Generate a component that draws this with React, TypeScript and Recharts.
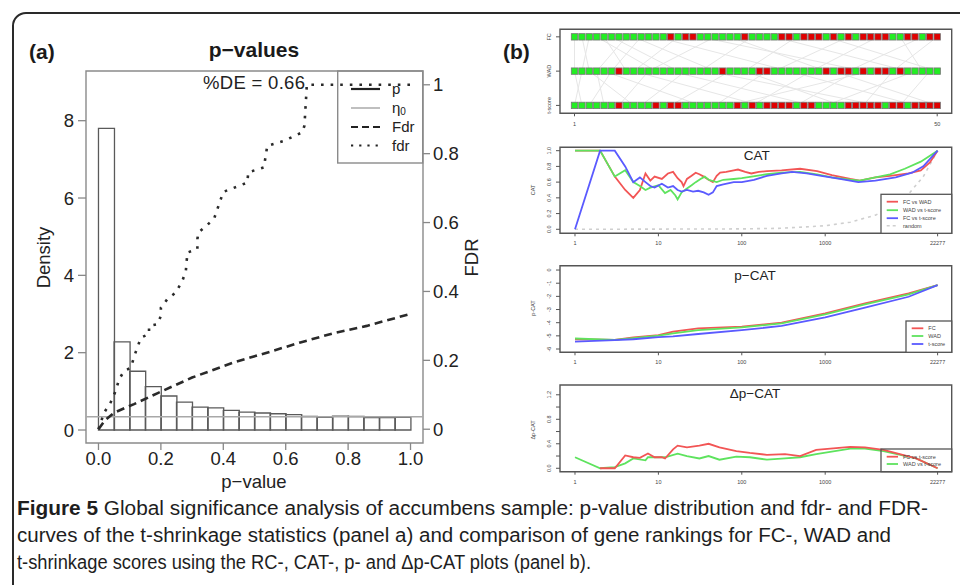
import React from 'react';
import {
  ComposedChart, LineChart, ScatterChart, Bar, Line, Scatter, XAxis, YAxis,
  ReferenceLine, ReferenceArea,
} from 'recharts';

const FONT = '"Liberation Sans", Arial, Helvetica, sans-serif';

// ---------- Panel (a): p-value histogram ----------
const HIST_BINS = ['0.00-0.05', '0.05-0.10', '0.10-0.15', '0.15-0.20', '0.20-0.25', '0.25-0.30', '0.30-0.35',
  '0.35-0.40', '0.40-0.45', '0.45-0.50', '0.50-0.55', '0.55-0.60', '0.60-0.65', '0.65-0.70', '0.70-0.75',
  '0.75-0.80', '0.80-0.85', '0.85-0.90', '0.90-0.95', '0.95-1.00'];
const HIST_DENSITY = [7.8, 2.28, 1.52, 1.12, 0.88, 0.72, 0.59, 0.57, 0.51, 0.46,
  0.44, 0.42, 0.40, 0.35, 0.33, 0.36, 0.35, 0.32, 0.32, 0.33];
const ETA0 = 0.34;
const FDR_P = [0, 0.02, 0.05, 0.114, 0.19, 0.3, 0.434, 0.55, 0.647, 0.75, 0.86, 1.0];
const FDR_V = [0, 0.025, 0.048, 0.073, 0.105, 0.15, 0.194, 0.225, 0.252, 0.278, 0.30, 0.335];
const LFDR_P = [0, 0.018, 0.039, 0.055, 0.066, 0.082, 0.103, 0.119, 0.136, 0.162, 0.162, 0.189, 0.2, 0.2,
  0.221, 0.248, 0.269, 0.28, 0.285, 0.317, 0.317, 0.32, 0.37, 0.392, 0.40, 0.477, 0.48, 0.53, 0.541,
  0.594, 0.653, 0.66, 0.667, 0.667, 1.0];
const LFDR_V = [0, 0.048, 0.078, 0.111, 0.145, 0.169, 0.178, 0.223, 0.266, 0.276, 0.30, 0.305, 0.329, 0.353,
  0.378, 0.397, 0.431, 0.46, 0.513, 0.523, 0.552, 0.571, 0.61, 0.668, 0.689, 0.716, 0.746, 0.76, 0.823,
  0.837, 0.862, 0.881, 0.9875, 1.0, 1.0];
const P_TICKS = [0, 0.2, 0.4, 0.6, 0.8, 1.0];
const DENS_TICKS = [0, 2, 4, 6, 8];
const FDR_TICKS = [0, 0.2, 0.4, 0.6, 0.8, 1];

// ---------- Panel (b): RC plot ----------
const RC_ROWS = ['t-score', 'WAD', 'FC']; // y = 1, 2, 3
const RC_N = 50;
const FC_RED = [14, 16, 17, 24, 29, 30, 32, 33, 34, 36, 38, 40, 41, 42, 43, 46, 47, 49, 50];
const WAD_RED = [7, 21, 26, 27, 35, 37, 38, 40, 42, 43, 45];
const TS_RED = [7, 12, 14, 15, 23, 25, 27, 28, 29, 30, 32, 33, 38, 39, 40, 41, 42, 44, 45, 47, 48, 49, 50];
const LINKS_TOP = [[1, 1], [2, 3], [3, 2], [4, 12], [5, 8], [6, 15], [8, 4], [9, 20], [10, 6], [12, 30],
  [15, 9], [18, 40], [20, 11], [22, 35], [25, 18], [28, 46], [31, 24], [35, 50], [38, 28], [42, 33],
  [45, 48], [48, 38], [50, 44]];
const LINKS_BOTTOM = [[1, 2], [2, 1], [3, 9], [4, 5], [5, 18], [6, 3], [9, 26], [11, 7], [14, 33],
  [16, 10], [19, 42], [22, 14], [24, 37], [27, 20], [30, 47], [33, 25], [36, 50], [39, 31], [41, 22],
  [44, 40], [47, 35], [49, 45]];

// ---------- CAT ----------
const CAT_FCWAD = [[1, 1.0], [2, 1.0], [3, 0.67], [4, 0.5], [5, 0.4], [6, 0.5], [7, 0.71], [8, 0.62], [9, 0.67],
  [11, 0.64], [13, 0.71], [15, 0.73], [17, 0.65], [19, 0.6], [20, 0.55], [22, 0.64], [25, 0.68], [28, 0.72],
  [31, 0.7], [35, 0.67], [40, 0.63], [45, 0.6], [50, 0.68], [55, 0.72], [65, 0.73], [80, 0.75], [90, 0.76],
  [110, 0.73], [130, 0.71], [160, 0.73], [200, 0.74], [300, 0.75], [500, 0.77], [800, 0.74], [1200, 0.69],
  [2000, 0.64], [2600, 0.62], [4000, 0.66], [6000, 0.68], [10000, 0.71], [14000, 0.75], [18000, 0.85], [22277, 1.0]];
const CAT_WADT = [[1, 1.0], [2, 1.0], [3, 0.67], [4, 0.75], [5, 0.6], [6, 0.55], [7, 0.5], [8, 0.53], [10, 0.56],
  [12, 0.46], [14, 0.5], [16, 0.43], [17, 0.38], [19, 0.47], [22, 0.52], [25, 0.56], [28, 0.6], [32, 0.64],
  [36, 0.67], [40, 0.63], [50, 0.6], [60, 0.63], [80, 0.64], [100, 0.65], [150, 0.68], [200, 0.7], [300, 0.72],
  [500, 0.73], [800, 0.7], [1200, 0.66], [2000, 0.63], [2600, 0.62], [4000, 0.66], [6000, 0.7], [9000, 0.77],
  [14000, 0.86], [22277, 1.0]];
const CAT_FCT = [[1, 0.0], [2, 1.0], [3, 1.0], [4, 0.8], [5, 0.6], [6, 0.66], [7, 0.6], [8, 0.55], [9, 0.53],
  [11, 0.58], [13, 0.53], [15, 0.55], [17, 0.5], [19, 0.48], [22, 0.5], [26, 0.48], [30, 0.49], [35, 0.47],
  [40, 0.44], [45, 0.47], [50, 0.55], [60, 0.57], [80, 0.6], [100, 0.6], [140, 0.63], [200, 0.68], [300, 0.71],
  [400, 0.73], [600, 0.71], [900, 0.68], [1500, 0.64], [2500, 0.6], [4000, 0.62], [7000, 0.66], [11000, 0.72],
  [15000, 0.8], [22277, 1.0]];
const CAT_RANDOM = [[1, 0], [100, 0.005], [300, 0.013], [1000, 0.045], [2000, 0.09], [4000, 0.18], [7000, 0.31],
  [10000, 0.45], [15000, 0.67], [22277, 1.0]];

// ---------- p-CAT ----------
const PCAT_FC = [[1, -5.26], [3, -5.3], [5, -5.11], [10, -4.94], [15, -4.68], [30, -4.43], [100, -4.3],
  [300, -4.0], [1000, -3.29], [3000, -2.53], [10000, -1.77], [22277, -1.14]];
const PCAT_WAD = [[1, -5.2], [3, -5.3], [5, -5.18], [10, -4.98], [15, -4.81], [30, -4.56], [100, -4.35],
  [300, -4.05], [1000, -3.37], [3000, -2.6], [10000, -1.85], [22277, -1.14]];
const PCAT_T = [[1, -5.44], [3, -5.32], [5, -5.26], [10, -5.1], [15, -5.04], [30, -4.86], [100, -4.56],
  [300, -4.25], [1000, -3.6], [3000, -2.86], [10000, -2.03], [22277, -1.14]];

// ---------- Δp-CAT ----------
const DPCAT_FC = [[2, 0.0], [3, 0.0], [4, 0.21], [5, 0.18], [6, 0.17], [7.5, 0.24], [9, 0.18], [11, 0.18],
  [12, 0.16], [15, 0.31], [17, 0.37], [22, 0.34], [31, 0.37], [40, 0.4], [54, 0.34], [86, 0.28], [125, 0.25],
  [200, 0.22], [330, 0.23], [500, 0.2], [780, 0.3], [2000, 0.35], [3000, 0.34], [5000, 0.3], [12300, 0.16],
  [22277, 0.0]];
const DPCAT_WAD = [[1, 0.18], [2, 0.0], [3, 0.02], [4, 0.08], [5, 0.16], [7, 0.13], [7.5, 0.18], [12, 0.18],
  [17, 0.24], [22, 0.2], [31, 0.16], [40, 0.2], [54, 0.14], [86, 0.19], [125, 0.18], [200, 0.14], [330, 0.16],
  [500, 0.18], [780, 0.23], [2000, 0.32], [3000, 0.32], [5000, 0.28], [12300, 0.16], [22277, 0.0]];

const RANK_TICKS = [1, 10, 100, 1000, 22277];
const RANK_DOMAIN = [0.661, 32880];

const RED = '#f25555';
const GREEN = '#5ee35e';
const BLUE = '#5a5aff';

const pts = (arr: number[][]) => arr.map(([r, v]) => ({ r, v }));

function RotTick(props: any) {
  const { x, y, payload, fmt } = props;
  const t = fmt ? fmt(payload.value, payload.index) : String(payload.value);
  return (
    <text x={x} y={y} transform={`rotate(-90 ${x} ${y})`} textAnchor="middle"
      fontSize={5.5} fill="#444" fontFamily={FONT}>{t}</text>
  );
}

const smallTick = { fontSize: 5.5, fill: '#444', fontFamily: FONT };
const bigTick = { fontSize: 18.5, fill: '#222', fontFamily: FONT };

function bMargin(t: number, b: number) {
  return { top: t, right: 8.3, bottom: 585 - b - 20, left: 500 };
}

const abs: React.CSSProperties = { position: 'absolute', left: 0, top: 0 };

function RankChart(props: { t: number; b: number; yDomain: number[]; yTicks: number[]; fmt: any; children: any }) {
  const { t, b, yDomain, yTicks, fmt, children } = props;
  return (
    <div style={abs}>
      <LineChart width={960} height={585} margin={bMargin(t, b)}>
        <XAxis dataKey="r" type="number" scale="log" domain={RANK_DOMAIN} allowDataOverflow
          ticks={RANK_TICKS} interval={0} height={20} tickSize={3} tickMargin={5}
          axisLine={false} tick={smallTick} tickLine={{ stroke: '#555' }} />
        <YAxis type="number" domain={yDomain} allowDataOverflow ticks={yTicks} interval={0}
          width={60} tickSize={4} tickMargin={5} axisLine={false} tickLine={{ stroke: '#555' }}
          tick={(p: any) => <RotTick {...p} fmt={fmt} />} />
        <ReferenceArea x1={RANK_DOMAIN[0]} x2={RANK_DOMAIN[1]} y1={yDomain[0]} y2={yDomain[1]}
          ifOverflow="visible" fill="none" fillOpacity={0} stroke="#555" strokeWidth={1.4} />
        {children}
      </LineChart>
    </div>
  );
}

export default function App() {
  const histData = HIST_BINS.map((bin, i) => ({ bin, d: HIST_DENSITY[i] }));
  const fdrData = FDR_P.map((x, i) => ({ x, v: FDR_V[i] }));
  const lfdrData = LFDR_P.map((x, i) => ({ x, v: LFDR_V[i] }));
  const idx = Array.from({ length: RC_N }, (_, i) => i + 1);
  const rows = [
    { y: 3, red: FC_RED },
    { y: 2, red: WAD_RED },
    { y: 1, red: TS_RED },
  ];

  const densDomain = [-0.336, 9.285];
  const fdrDomain = [-0.04, 1.04];
  const pDomain = [-0.04, 1.04];
  const rcXDomain = [-0.96, 51.96];
  const rcYDomain = [0.77, 3.22];

  const square = (p: any) => (
    <rect x={p.cx - 3.2} y={p.cy - 3.2} width={6.4} height={6.4}
      fill={p.payload.red ? '#e00000' : '#22ee22'} stroke="#777" strokeWidth={0.8} />
  );

  return (
    <div style={{ position: 'absolute', left: 0, top: 0, width: 960, height: 585, background: '#fff', overflow: 'hidden', fontFamily: FONT }}>
      <div style={{ position: 'absolute', left: 12, top: 12, width: 1000, height: 1000, border: '2px solid #2a2a2a', borderTopLeftRadius: 14 }} />

      {/* Panel (a) */}
      <div style={abs}>
        <ComposedChart width={960} height={585} data={histData} barCategoryGap={0} barGap={0}
          margin={{ top: 71, right: 460, bottom: 85, left: 0 }}>
          <XAxis dataKey="x" type="number" domain={pDomain} allowDataOverflow ticks={P_TICKS} interval={0}
            tickFormatter={(v: number) => v.toFixed(1)} height={57} tickSize={7} tickMargin={2}
            axisLine={false} tick={bigTick} tickLine={{ stroke: '#888', strokeWidth: 1.3 }} />
          <XAxis xAxisId="bins" dataKey="bin" type="category" hide padding={{ left: 12.48, right: 12.48 }} />
          <YAxis yAxisId="d" type="number" domain={densDomain} allowDataOverflow ticks={DENS_TICKS} interval={0}
            width={86} tickSize={8} tickMargin={4} axisLine={false} tick={bigTick}
            tickLine={{ stroke: '#888', strokeWidth: 1.3 }} />
          <YAxis yAxisId="f" orientation="right" type="number" domain={fdrDomain} allowDataOverflow
            ticks={FDR_TICKS} interval={0} width={77} tickSize={7} tickMargin={3} axisLine={false}
            tick={bigTick} tickLine={{ stroke: '#888', strokeWidth: 1.3 }}
            tickFormatter={(v: number) => (v === 0 || v === 1 ? String(v) : v.toFixed(1))} />
          <ReferenceArea yAxisId="d" x1={pDomain[0]} x2={pDomain[1]} y1={densDomain[0]} y2={densDomain[1]}
            ifOverflow="visible" fill="none" fillOpacity={0} stroke="#8a8a8a" strokeWidth={1.4} />
          <Bar xAxisId="bins" yAxisId="d" dataKey="d" fill="none" fillOpacity={0} stroke="#5a5a5a"
            strokeWidth={1.3} isAnimationActive={false} />
          <ReferenceLine yAxisId="d" y={ETA0} stroke="#a8a8a8" strokeWidth={1.5} />
          <Line yAxisId="f" data={fdrData} dataKey="v" type="linear" stroke="#2a2a2a" strokeWidth={2.6}
            strokeDasharray="8 5" dot={false} isAnimationActive={false} />
          <Line yAxisId="f" data={lfdrData} dataKey="v" type="linear" stroke="#2a2a2a" strokeWidth={2.6}
            strokeDasharray="2.6 7" dot={false} isAnimationActive={false} />
        </ComposedChart>
      </div>

      {/* RC plot */}
      <div style={abs}>
        <ScatterChart width={960} height={585} margin={bMargin(29.3, 113.3)}>
          <XAxis dataKey="x" type="number" domain={rcXDomain} allowDataOverflow ticks={[1, RC_N]} interval={0}
            height={20} tickSize={3} tickMargin={6} axisLine={false} tick={smallTick} tickLine={{ stroke: '#555' }} />
          <YAxis dataKey="y" type="number" domain={rcYDomain} allowDataOverflow ticks={[1, 2, 3]} interval={0}
            width={60} tickSize={4} tickMargin={5} axisLine={false} tickLine={{ stroke: '#555' }}
            tick={(p: any) => <RotTick {...p} fmt={(v: number) => RC_ROWS[v - 1]} />} />
          {LINKS_TOP.map(([a, b], i) => (
            <ReferenceLine key={'lt' + i} segment={[{ x: a, y: 3 }, { x: b, y: 2 }]} stroke="#e6e6e6" strokeWidth={1} />
          ))}
          {LINKS_BOTTOM.map(([a, b], i) => (
            <ReferenceLine key={'lb' + i} segment={[{ x: a, y: 2 }, { x: b, y: 1 }]} stroke="#e6e6e6" strokeWidth={1} />
          ))}
          <ReferenceArea x1={rcXDomain[0]} x2={rcXDomain[1]} y1={rcYDomain[0]} y2={rcYDomain[1]}
            ifOverflow="visible" fill="none" fillOpacity={0} stroke="#555" strokeWidth={1.4} />
          {rows.map((row, k) => (
            <Scatter key={'row' + k} data={idx.map((x) => ({ x, y: row.y, red: row.red.includes(x) }))}
              shape={square} isAnimationActive={false} />
          ))}
        </ScatterChart>
      </div>

      {/* CAT */}
      <RankChart t={147.3} b={233.3} yDomain={[-0.051, 1.043]} yTicks={[0, 0.2, 0.4, 0.6, 0.8, 1.0]}
        fmt={(v: number) => v.toFixed(1)}>
        <Line data={pts(CAT_RANDOM)} dataKey="v" stroke="#cfcfcf" strokeWidth={1.6} strokeDasharray="3 4" dot={false} isAnimationActive={false} />
        <Line data={pts(CAT_FCWAD)} dataKey="v" stroke={RED} strokeWidth={1.8} dot={false} isAnimationActive={false} />
        <Line data={pts(CAT_WADT)} dataKey="v" stroke={GREEN} strokeWidth={1.8} dot={false} isAnimationActive={false} />
        <Line data={pts(CAT_FCT)} dataKey="v" stroke={BLUE} strokeWidth={1.8} dot={false} isAnimationActive={false} />
      </RankChart>

      {/* p-CAT */}
      <RankChart t={265.7} b={352.3} yDomain={[-6.25, 0.33]} yTicks={[0, -1, -2, -3, -4, -5, -6]}
        fmt={(v: number) => String(v)}>
        <Line data={pts(PCAT_FC)} dataKey="v" stroke={RED} strokeWidth={1.8} dot={false} isAnimationActive={false} />
        <Line data={pts(PCAT_WAD)} dataKey="v" stroke={GREEN} strokeWidth={1.8} dot={false} isAnimationActive={false} />
        <Line data={pts(PCAT_T)} dataKey="v" stroke={BLUE} strokeWidth={1.8} dot={false} isAnimationActive={false} />
      </RankChart>

      {/* Δp-CAT */}
      <RankChart t={385} b={471.7} yDomain={[-0.056, 1.36]} yTicks={[0, 0.2, 0.4, 0.6, 0.8, 1.0, 1.2]}
        fmt={(v: number, i: number) => (i % 2 === 0 ? v.toFixed(1) : '')}>
        <Line data={pts(DPCAT_WAD)} dataKey="v" stroke={GREEN} strokeWidth={1.8} dot={false} isAnimationActive={false} />
        <Line data={pts(DPCAT_FC)} dataKey="v" stroke={RED} strokeWidth={1.8} dot={false} isAnimationActive={false} />
      </RankChart>

      {/* Text overlay: titles, labels, legends, caption */}
      <svg width={960} height={585} style={{ position: 'absolute', left: 0, top: 0, pointerEvents: 'none' }} fontFamily={FONT}>
        {/* panel a */}
        <text x={29} y={59} fontSize={21} fontWeight="bold" fill="#1a1a1a">(a)</text>
        <text x={254} y={56.5} fontSize={21} fontWeight="bold" fill="#1a1a1a" textAnchor="middle">p−values</text>
        <text x={203} y={89} fontSize={18.5} fill="#222" textLength={102} lengthAdjust="spacing">%DE = 0.66</text>
        <text x={50} y={257.5} fontSize={18.5} fill="#222" textAnchor="middle" transform="rotate(-90 50 257.5)">Density</text>
        <text x={478} y={257.5} fontSize={18.5} fill="#222" textAnchor="middle" transform="rotate(-90 478 257.5)">FDR</text>
        <text x={254} y={488} fontSize={18.5} fill="#222" textAnchor="middle">p−value</text>
        <rect x={337.7} y={71} width={85} height={92} fill="none" stroke="#8a8a8a" strokeWidth={1.4} />
        <line x1={351} x2={380} y1={89} y2={89} stroke="#222" strokeWidth={2.2} />
        <text x={392} y={94} fontSize={15} fill="#222">p</text>
        <line x1={351} x2={380} y1={108} y2={108} stroke="#aaa" strokeWidth={1.5} />
        <text x={392} y={113} fontSize={15} fill="#222">η<tspan fontSize={10} dy={2}>0</tspan></text>
        <line x1={351} x2={380} y1={127} y2={127} stroke="#222" strokeWidth={2.2} strokeDasharray="7 4" />
        <text x={392} y={132} fontSize={15} fill="#222">Fdr</text>
        <line x1={351} x2={380} y1={145.5} y2={145.5} stroke="#222" strokeWidth={2.2} strokeDasharray="2.2 6" />
        <text x={392} y={150.5} fontSize={15} fill="#222">fdr</text>

        {/* panel b */}
        <text x={503} y={59} fontSize={21} fontWeight="bold" fill="#1a1a1a">(b)</text>

        <text x={756.7} y={160} fontSize={13.5} fill="#222" textAnchor="middle">CAT</text>
        <text x={535} y={190} fontSize={5.5} fill="#444" textAnchor="middle" transform="rotate(-90 535 190)">CAT</text>
        <rect x={881} y={194.3} width={70.7} height={39} fill="#fff" stroke="#555" strokeWidth={1.3} />
        <line x1={886.7} x2={898} y1={201.7} y2={201.7} stroke={RED} strokeWidth={1.8} />
        <text x={903} y={203.6} fontSize={5.5} fill="#444">FC vs WAD</text>
        <line x1={886.7} x2={898} y1={210.2} y2={210.2} stroke={GREEN} strokeWidth={1.8} />
        <text x={903} y={212.1} fontSize={5.5} fill="#444">WAD vs t-score</text>
        <line x1={886.7} x2={898} y1={218.2} y2={218.2} stroke={BLUE} strokeWidth={1.8} />
        <text x={903} y={220.1} fontSize={5.5} fill="#444">FC vs t-score</text>
        <line x1={886.7} x2={898} y1={225.7} y2={225.7} stroke="#cfcfcf" strokeWidth={1.6} strokeDasharray="3 3" />
        <text x={903} y={227.6} fontSize={5.5} fill="#444">random</text>

        <text x={755} y={280} fontSize={13.5} fill="#222" textAnchor="middle">p−CAT</text>
        <text x={535} y={308} fontSize={5.5} fill="#444" textAnchor="middle" transform="rotate(-90 535 308)">p-CAT</text>
        <rect x={906} y={321} width={45.7} height={31.3} fill="#fff" stroke="#555" strokeWidth={1.3} />
        <line x1={911.7} x2={923.3} y1={328.3} y2={328.3} stroke={RED} strokeWidth={1.8} />
        <text x={928.3} y={330.2} fontSize={5.5} fill="#444">FC</text>
        <line x1={911.7} x2={923.3} y1={336} y2={336} stroke={GREEN} strokeWidth={1.8} />
        <text x={928.3} y={337.9} fontSize={5.5} fill="#444">WAD</text>
        <line x1={911.7} x2={923.3} y1={344} y2={344} stroke={BLUE} strokeWidth={1.8} />
        <text x={928.3} y={345.9} fontSize={5.5} fill="#444">t-score</text>

        <text x={755} y={398} fontSize={13.5} fill="#222" textAnchor="middle">Δp−CAT</text>
        <text x={535} y={430} fontSize={5.5} fill="#444" textAnchor="middle" transform="rotate(-90 535 430)">Δp-CAT</text>
        <rect x={881} y={449} width={70.7} height={22.7} fill="none" stroke="#555" strokeWidth={1.3} />
        <line x1={886.7} x2={898} y1={456.7} y2={456.7} stroke={RED} strokeWidth={1.8} />
        <text x={903} y={458.6} fontSize={5.5} fill="#444">FC vs t-score</text>
        <line x1={886.7} x2={898} y1={464} y2={464} stroke={GREEN} strokeWidth={1.8} />
        <text x={903} y={465.9} fontSize={5.5} fill="#444">WAD vs t-score</text>

        {/* caption */}
        <text x={17} y={515} fontSize={20} fill="#1e1e1e" textLength={911} lengthAdjust="spacingAndGlyphs">
          <tspan fontWeight="bold">Figure 5</tspan> Global significance analysis of accumbens sample: p-value distribution and fdr- and FDR-
        </text>
        <text x={17} y={542} fontSize={20} fill="#1e1e1e" textLength={874} lengthAdjust="spacingAndGlyphs">
          curves of the t-shrinkage statistics (panel a) and comparison of gene rankings for FC-, WAD and
        </text>
        <text x={17} y={569} fontSize={20} fill="#1e1e1e" textLength={574} lengthAdjust="spacingAndGlyphs">
          t-shrinkage scores using the RC-, CAT-, p- and Δp-CAT plots (panel b).
        </text>
      </svg>
    </div>
  );
}
